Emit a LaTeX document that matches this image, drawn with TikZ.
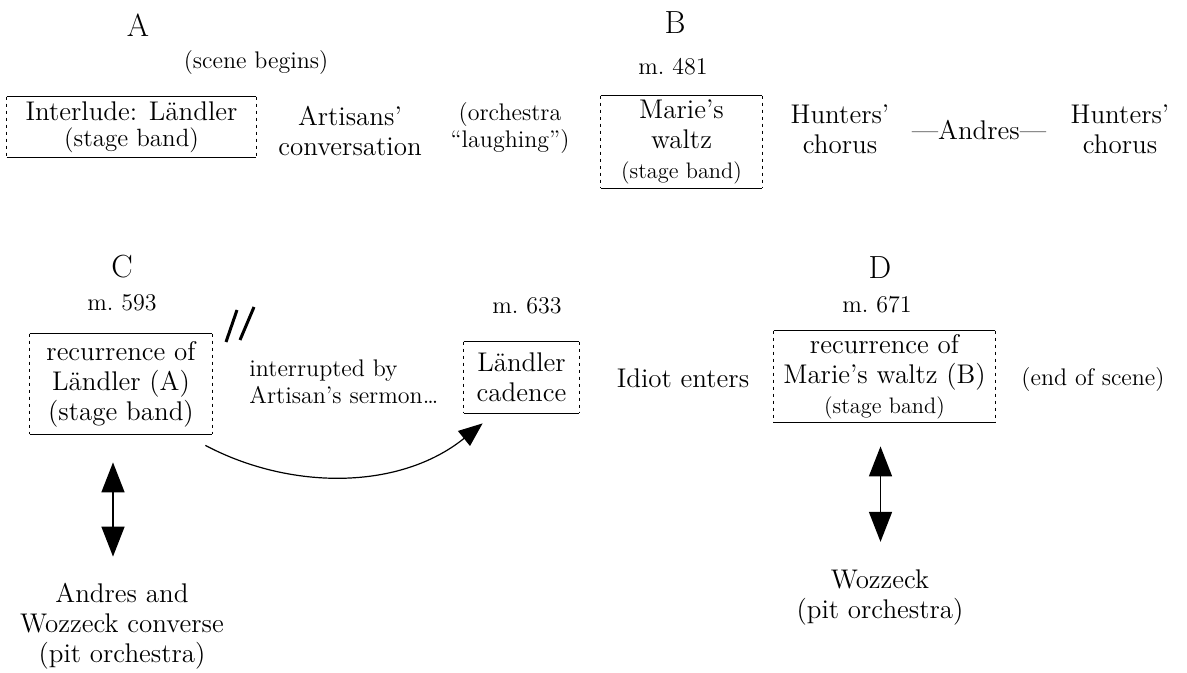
\documentclass[tikz,border=0pt]{standalone}
\usepackage{tikz}
\usetikzlibrary{arrows.meta}

\tikzset{
  lbl/.style={font=\fontsize{13.5}{15}\selectfont, align=center, inner sep=1pt},
  note/.style={font=\fontsize{12}{13.5}\selectfont, align=center, inner sep=1pt},
  sec/.style={font=\fontsize{16}{18}\selectfont, inner sep=1pt},
  band/.style={lbl, inner sep=0pt},
  rule/.style={line width=0.8pt},
  side/.style={line width=0.35pt, dash pattern=on 1.5pt off 2pt},
  twoway/.style={{Triangle[length=15pt,width=11.5pt]}-{Triangle[length=15pt,width=11.5pt]}, line width=0.8pt},
  swing/.style={-{Triangle[length=12pt,width=9.5pt]}, line width=0.6pt},
  slash/.style={line width=1.5pt}
}

\begin{document}
\begin{tikzpicture}[x=0.5pt,y=-0.5pt]
\useasboundingbox (0,0) rectangle (1187,673);

% upper row
\node [sec] (secA) at (138,25) {A};
\node [sec] (secB) at (675,23) {B};
\node [note] (begins) at (256,63) {(scene begins)};
\node [note] (mB) at (673,67) {m.~481};

\node [band, minimum width=124.5pt, minimum height=30pt] (intA) at (131.5,127)
  {Interlude: Ländler\\[-2pt]{\fontsize{12.5}{14}\selectfont (stage band)}};
\node [lbl] (artisans) at (350,131) {Artisans'\\conversation};
\node [note] (laughing) at (510,128) {(orchestra\\``laughing'')};
\node [band, minimum width=80.5pt, minimum height=46pt] (walzB) at (681.5,142)
  {Marie's\\waltz\\{\fontsize{11.2}{13}\selectfont (stage band)}};
\node [lbl] (huntA) at (840,129) {Hunters'\\chorus};
\node [lbl] (andres) at (979,130) {---Andres---};
\node [lbl] (huntB) at (1120,129) {Hunters'\\chorus};

% lower row
\node [sec] (secC) at (122,267) {C};
\node [sec] (secD) at (880,268) {D};
\node [note] (mC) at (122,303) {m.~593};
\node [note] (mCad) at (527,306) {m.~633};
\node [note] (mD) at (877,305) {m.~671};

\node [band, minimum width=91pt, minimum height=50pt] (recC) at (121,384)
  {recurrence of\\Ländler (A)\\(stage band)};
\node [note, anchor=west, align=left] (sermon) at (247,382)
  {interrupted by\\Artisan's sermon\ldots};
\node [band, minimum width=57.5pt, minimum height=35.5pt] (cad) at (521.5,377.5)
  {Ländler\\cadence};
\node [lbl] (idiot) at (683,378) {Idiot enters};
\node [band, minimum width=110.5pt, minimum height=45.5pt] (recD) at (884.5,376.5)
  {recurrence of\\Marie's waltz (B)\\{\fontsize{11.2}{13}\selectfont (stage band)}};
\node [note] (endscene) at (1093,380) {(end of scene)};

\node [lbl] (pitC) at (122,626) {Andres and\\Wozzeck converse\\(pit orchestra)};
\node [lbl] (pitD) at (880,598) {Wozzeck\\(pit orchestra)};

% box edges: solid above and below, broken at the sides
\foreach \b in {intA,walzB,recC,cad,recD} {
  \draw [rule] (\b.north west) -- (\b.north east);
  \draw [rule] (\b.south west) -- (\b.south east);
  \draw [side] (\b.north west) -- (\b.south west);
  \draw [side] (\b.north east) -- (\b.south east);
}

% break mark
\coordinate (brk) at (240,325);
\draw [slash] ([shift={(-3,-15)}]brk) -- ([shift={(-14,17)}]brk);
\draw [slash] ([shift={(14,-18)}]brk) -- ([shift={(0,15)}]brk);

% arrows
\draw [swing] ([shift={(-7,11)}]recC.south east) .. controls +(85,45) and +(-83,67) .. ([shift={(19,10)}]cad.south west);
\draw [twoway, shorten <=14pt, shorten >=12pt] ([xshift=-4pt]recC.south) -- ([xshift=-4pt]recC.south |- pitC.north);
\draw [twoway, shorten <=12pt, shorten >=13pt] ([xshift=-2pt]recD.south) -- ([xshift=-2pt]recD.south |- pitD.north);
\end{tikzpicture}
\end{document}
